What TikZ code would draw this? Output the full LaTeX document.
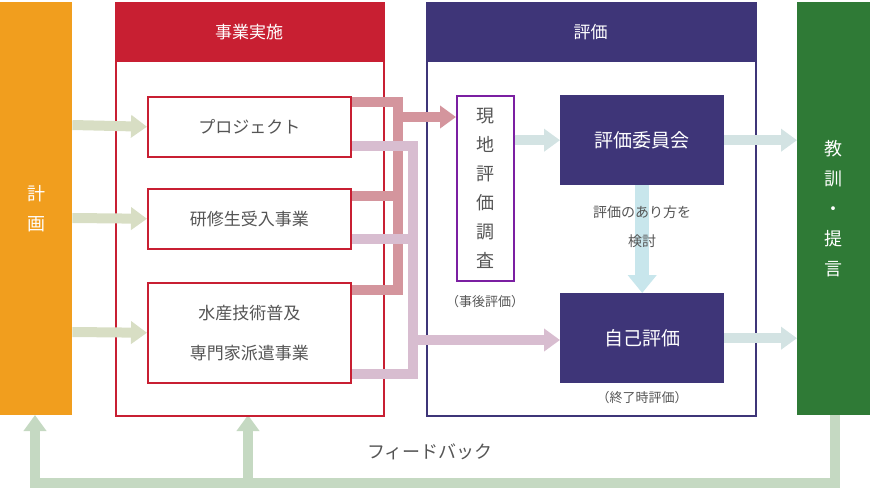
\documentclass[tikz,border=0pt]{standalone}
\usepackage{fontspec}
\setmainfont{Noto Sans CJK JP}
\usetikzlibrary{arrows.meta}
\definecolor{org}{HTML}{F19E1E}
\definecolor{red1}{HTML}{C81F32}
\definecolor{pur}{HTML}{3E3578}
\definecolor{vio}{HTML}{7B1FA2}
\definecolor{grn}{HTML}{2F7A36}
\definecolor{txt}{HTML}{555555}
\definecolor{arrG}{HTML}{D8DEC4}
\definecolor{arrC}{HTML}{D3E3E3}
\definecolor{arrD}{HTML}{C8E6EC}
\definecolor{pink}{HTML}{D4959D}
\definecolor{lpur}{HTML}{D8BDD0}
\definecolor{fb}{HTML}{C5D9C2}
\tikzset{
  fat/.style={line width=10pt,-{Triangle[width=22pt,length=16pt]}},
  plain/.style={line width=10pt},
  wbox/.style={draw=red1,line width=1.5pt,fill=white,text=txt,font=\fontsize{17}{24}\selectfont,align=center,inner sep=0pt},
  dbox/.style={fill=pur,text=white,font=\fontsize{19}{24}\selectfont,inner sep=0pt},
  lab/.style={text=txt,font=\fontsize{13}{18}\selectfont,align=center},
}
\begin{document}
\begin{tikzpicture}[x=1pt,y=-1pt]
\useasboundingbox (0,0) rectangle (870,490);
% feedback
\draw[fb,line width=10pt,-{Triangle[width=22pt,length=16pt]}] (835,415) -- (835,483) -- (35,483) -- (35,415);
\draw[fb,line width=10pt,-{Triangle[width=22pt,length=16pt]}] (248,483) -- (248,415);
\node[text=txt,font=\fontsize{18}{22}\selectfont] (fbt) at (430,452) {フィードバック};
% side bars
\node[fill=org,minimum width=72pt,minimum height=413pt,inner sep=0pt,anchor=north west,text=white,font=\fontsize{18}{30}\selectfont,align=center] (plan) at (0,2) {計\\画};
\node[fill=grn,minimum width=73pt,minimum height=413pt,inner sep=0pt,anchor=north west,text=white,font=\fontsize{18}{30}\selectfont,align=center] (less) at (797,2) {教\\訓\\・\\提\\言};
% big frames
\node[draw=red1,line width=1.5pt,minimum width=268pt,minimum height=413pt,anchor=north west,inner sep=0pt] (impl) at (115,2) {};
\node[fill=red1,minimum width=268pt,minimum height=60pt,anchor=north west,inner sep=0pt,text=white,font=\fontsize{17}{20}\selectfont] (implh) at (115,2) {事業実施};
\node[draw=pur,line width=1.5pt,minimum width=329pt,minimum height=413pt,anchor=north west,inner sep=0pt] (eval) at (426,2) {};
\node[fill=pur,minimum width=329pt,minimum height=60pt,anchor=north west,inner sep=0pt,text=white,font=\fontsize{17}{20}\selectfont] (evalh) at (426,2) {評価};
% pink / purple connectors
\draw[pink,plain] (350,102) -- (398,102) -- (398,290) -- (350,290);
\draw[pink,plain] (350,196) -- (398,196);
\draw[pink,fat] (393,117) -- (456,117);
\draw[lpur,plain] (350,146) -- (413,146) -- (413,374) -- (350,374);
\draw[lpur,plain] (350,239) -- (413,239);
\draw[lpur,fat] (408,340) -- (560,340);
% inner boxes
\node[wbox,minimum width=203pt,minimum height=60pt,anchor=north west] (p1) at (147,96) {プロジェクト};
\node[wbox,minimum width=203pt,minimum height=60pt,anchor=north west] (p2) at (147,188) {研修生受入事業};
\node[wbox,minimum width=203pt,minimum height=100pt,anchor=north west,font=\fontsize{17}{40}\selectfont] (p3) at (147,282) {水産技術普及\\専門家派遣事業};
% plan arrows
\draw[arrG,fat] (plan.east |- 0,125) -- (p1.west);
\draw[arrG,fat] (plan.east |- 0,218) -- (p2.west);
\draw[arrG,fat] (plan.east |- 0,332) -- (p3.west);
% eval boxes
\node[draw=vio,line width=1.5pt,fill=white,minimum width=57pt,minimum height=185pt,anchor=north west,inner sep=0pt,text=txt,font=\fontsize{18}{29}\selectfont,align=center] (site) at (456,95) {現\\地\\評\\価\\調\\査};
\node[dbox,minimum width=164pt,minimum height=90pt,anchor=north west] (comm) at (560,95) {評価委員会};
\node[dbox,minimum width=164pt,minimum height=90pt,anchor=north west] (self) at (560,293) {自己評価};
\draw[arrD,line width=14pt,-{Triangle[width=28pt,length=18pt]}] (comm.south) -- (self.north);
\node[lab,font=\fontsize{14}{29}\selectfont] (how) at (642,227) {評価のあり方を\\検討};
\node[lab] (jigo) at (485,302) {（事後評価）};
\node[lab] (shur) at (642,398) {（終了時評価）};
\draw[arrC,fat] (site.east |- comm) -- (comm.west);
\draw[arrC,fat] (comm.east) -- (less.west |- comm);
\draw[arrC,fat] (self.east) -- (less.west |- self);
\end{tikzpicture}
\end{document}
